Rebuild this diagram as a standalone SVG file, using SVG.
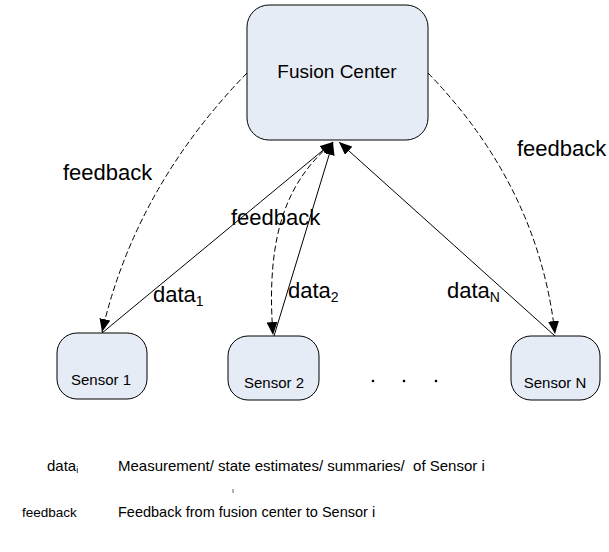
<svg xmlns="http://www.w3.org/2000/svg" width="609" height="552" viewBox="0 0 609 552">
<defs>
<marker id="ah" viewBox="0 0 13 11" refX="13" refY="5.5" markerWidth="13" markerHeight="11" markerUnits="userSpaceOnUse" orient="auto">
<path d="M0,0 L13,5.5 L0,11 Z" fill="#000"/>
</marker>
</defs>
<style>
.box{fill:#e6ecf6;stroke:#000;stroke-width:1}
.lbl{font-family:"Liberation Sans",Arial,sans-serif;fill:#000}
.solid{fill:none;stroke:#000;stroke-width:1;marker-end:url(#ah)}
.dash{fill:none;stroke:#000;stroke-width:1;stroke-dasharray:6,3;marker-end:url(#ah)}
</style>
<rect width="609" height="552" fill="#fff"/>
<g id="connectors">
<path class="dash" d="M247,73 Q135.5,187.5 102,332"/>
<path class="dash" d="M428,73 Q538.5,187 555,334"/>
<path class="dash" d="M330,145 C290,180 265,230 273,335"/>
<path class="solid" d="M102,333 L333,142"/>
<path class="solid" d="M274,336 L333,142"/>
<path class="solid" d="M555,336 L339,142"/>
</g>
<g id="fusion-center">
<rect class="box" x="247" y="5" width="181" height="135" rx="22" ry="22"/>
<text class="lbl" x="337" y="78" font-size="19" text-anchor="middle">Fusion Center</text>
</g>
<g id="sensor-1">
<rect class="box" x="57" y="333" width="90" height="66" rx="20" ry="20"/>
<text class="lbl" x="101" y="385" font-size="15" text-anchor="middle">Sensor 1</text>
</g>
<g id="sensor-2">
<rect class="box" x="228" y="336" width="91" height="64" rx="20" ry="20"/>
<text class="lbl" x="274" y="388" font-size="15" text-anchor="middle">Sensor 2</text>
</g>
<g id="sensor-n">
<rect class="box" x="511" y="336" width="89" height="64" rx="20" ry="20"/>
<text class="lbl" x="555" y="388" font-size="15" text-anchor="middle">Sensor N</text>
</g>
<g id="ellipsis">
<circle cx="373" cy="381" r="1.3" fill="#000"/>
<circle cx="404" cy="381" r="1.3" fill="#000"/>
<circle cx="436" cy="381" r="1.3" fill="#000"/>
</g>
<g id="labels">
<text class="lbl" x="63" y="180" font-size="22">feedback</text>
<text class="lbl" x="231" y="225" font-size="22">feedback</text>
<text class="lbl" x="517" y="156" font-size="22">feedback</text>
<text class="lbl" x="153" y="302" font-size="22">data<tspan font-size="14" dy="4">1</tspan></text>
<text class="lbl" x="288" y="298" font-size="22">data<tspan font-size="14" dy="4">2</tspan></text>
<text class="lbl" x="447" y="298" font-size="22">data<tspan font-size="14" dy="4">N</tspan></text>
</g>
<g id="legend">
<text class="lbl" x="47" y="471" font-size="15">data<tspan font-size="9" dy="2">i</tspan></text>
<text class="lbl" x="118" y="471" font-size="15">Measurement/ state estimates/ summaries/&#160; of Sensor i</text>
<text class="lbl" x="232" y="493" font-size="7">ı</text>
<text class="lbl" x="22" y="517" font-size="13.5">feedback</text>
<text class="lbl" x="118" y="517" font-size="14.5">Feedback from fusion center to Sensor i</text>
</g>
</svg>
